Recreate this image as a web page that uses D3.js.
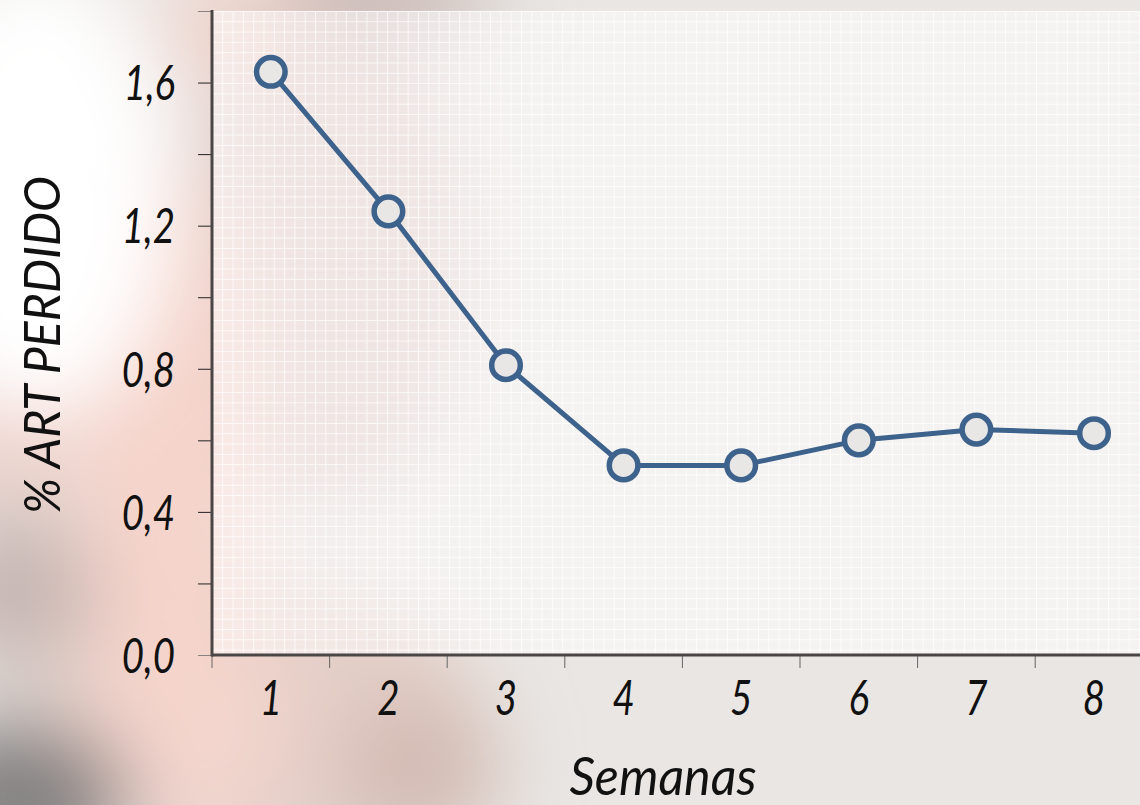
<!DOCTYPE html>
<html>
<head>
<meta charset="utf-8">
<script src="https://cdn.jsdelivr.net/npm/d3@7"></script>
<style>
  html, body { margin: 0; padding: 0; overflow: hidden; }
  svg { display: block; }
  text { font-family: Lato, 'DejaVu Sans Condensed', sans-serif; font-style: italic; font-weight: 400; fill: #111; }
</style>
</head>
<body>
<svg id="svg"></svg>
<script>
// data
var weeks = ["1", "2", "3", "4", "5", "6", "7", "8"];
var artLost = [1.63, 1.24, 0.81, 0.53, 0.53, 0.60, 0.63, 0.62];
var yTicks = [0, 0.2, 0.4, 0.6, 0.8, 1.0, 1.2, 1.4, 1.6, 1.8];
var yLabels = [0, 0.4, 0.8, 1.2, 1.6];

var W = 1140, H = 805;
var margin = {left: 212, top: 11, bottom: 150};
var height = H - margin.top - margin.bottom;
var squeeze = 0.8; // narrow the glyphs, the original face is condensed

var svg = d3.select("#svg").attr("width", W).attr("height", H);
var defs = svg.append("defs");

// blurred photo-like background
defs.append("filter").attr("id", "blur")
    .attr("x", "-50%").attr("y", "-50%").attr("width", "200%").attr("height", "200%")
    .append("feGaussianBlur").attr("stdDeviation", 40);

svg.append("rect").attr("width", W).attr("height", H).attr("fill", "#e9e6e3");

var blobs = [
    {cx: 260, cy: 720, rx: 220, ry: 150, c: "#e4cfc8"},
    {cx: 420, cy: 770, rx: 80, ry: 80, c: "#d3bbb3"},
    {cx: 180, cy: 720, rx: 100, ry: 110, c: "#f4d6ce"},
    {cx: 330, cy: 250, rx: 140, ry: 260, c: "#dfcbc6"},
    {cx: 165, cy: 440, rx: 90, ry: 290, c: "#f5d4cb"},
    {cx: 10, cy: 430, rx: 60, ry: 60, c: "#eec8c0"},
    {cx: 15, cy: 590, rx: 80, ry: 80, c: "#c6b6b2"},
    {cx: 20, cy: 800, rx: 110, ry: 80, c: "#838181"},
    {cx: 35, cy: 190, rx: 140, ry: 230, c: "#ffffff"},
    {cx: 380, cy: -10, rx: 120, ry: 40, c: "#c6b6b2"},
    {cx: 230, cy: 30, rx: 70, ry: 50, c: "#f0d0c8"}
];
var bg = svg.append("g").attr("filter", "url(#blur)");
blobs.forEach(function(b) {
    bg.append("ellipse").attr("cx", b.cx).attr("cy", b.cy)
        .attr("rx", b.rx).attr("ry", b.ry).attr("fill", b.c);
});

// grid pattern for plot area
var pat = defs.append("pattern").attr("id", "grid")
    .attr("patternUnits", "userSpaceOnUse")
    .attr("width", 10.3).attr("height", 10.3)
    .attr("x", margin.left).attr("y", margin.top);
pat.append("rect").attr("width", 10.3).attr("height", 10.3).attr("fill", "#ffffff").attr("fill-opacity", 0.5);
pat.append("path").attr("d", "M0,0.5H10.3M0.5,0V10.3")
    .attr("stroke", "#ffffff").attr("stroke-opacity", 0.75).attr("stroke-width", 1);

var xScale = d3.scaleBand().domain(weeks).range([margin.left, margin.left + 8 * 117.6]);
var yScale = d3.scaleLinear().domain([0, 1.8]).range([margin.top + height, margin.top]);

svg.append("rect")
    .attr("x", margin.left).attr("y", margin.top)
    .attr("width", W - margin.left).attr("height", height)
    .attr("fill", "url(#grid)");

// y axis ticks
var yAxis = svg.append("g").attr("transform", `translate(${margin.left - 1}, 0)`)
    .call(d3.axisLeft(yScale).tickValues(yTicks).tickSize(13).tickSizeOuter(0)
        .tickFormat(d => yLabels.some(v => Math.abs(v - d) < 1e-9) ? d3.format(".1f")(d).replace(".", ",") : ""));
yAxis.select(".domain").remove();
yAxis.selectAll(".tick line").attr("stroke", (d) => (d === 0 || d === 1.8) ? "#8d8282" : "#222");
yAxis.selectAll(".tick text").attr("x", 0).attr("dy", "0.36em")
    .attr("transform", `translate(-36, 0) scale(${squeeze}, 1)`)
    .style("font-size", "48px").attr("fill", "#111");

// x axis ticks at band boundaries
var xb = d3.range(9).map(i => margin.left + i * xScale.step());
svg.append("g").selectAll("line").data(xb).enter().append("line")
    .attr("x1", d => d).attr("x2", d => d)
    .attr("y1", margin.top + height).attr("y2", margin.top + height + 13)
    .attr("stroke", "#666").attr("stroke-width", 1);

var xAxis = svg.append("g").attr("transform", `translate(0, ${margin.top + height})`)
    .call(d3.axisBottom(xScale).tickSize(0));
xAxis.select(".domain").remove();
xAxis.selectAll(".tick text").attr("y", 0).attr("dy", 0)
    .attr("transform", `translate(0, 60) scale(${squeeze}, 1)`)
    .style("font-size", "48px").attr("fill", "#111");

// axis lines
svg.append("line").attr("x1", margin.left).attr("x2", margin.left)
    .attr("y1", margin.top - 1).attr("y2", margin.top + height + 1.5)
    .attr("stroke", "#4a4646").attr("stroke-width", 3);
svg.append("line").attr("x1", margin.left).attr("x2", W)
    .attr("y1", margin.top + height).attr("y2", margin.top + height)
    .attr("stroke", "#4a4646").attr("stroke-width", 3);

// line + markers
var pts = weeks.map((w, i) => ({w: w, v: artLost[i]}));
svg.append("path").datum(pts)
    .attr("fill", "none").attr("stroke", "#3d628c").attr("stroke-width", 5)
    .attr("stroke-linejoin", "round")
    .attr("d", d3.line().x(d => xScale(d.w) + xScale.bandwidth() / 2).y(d => yScale(d.v)));
svg.append("g").selectAll("circle").data(pts).enter().append("circle")
    .attr("cx", d => xScale(d.w) + xScale.bandwidth() / 2)
    .attr("cy", d => yScale(d.v))
    .attr("r", 14.3)
    .attr("fill", "#e8e7e6").attr("stroke", "#3d628c").attr("stroke-width", 5.5);

// titles
svg.append("text").attr("x", 663).attr("y", 795).attr("text-anchor", "middle")
    .attr("textLength", 187).attr("lengthAdjust", "spacingAndGlyphs")
    .style("font-size", "52px").text("Semanas");
svg.append("text").attr("transform", "translate(60, 345) rotate(-90)")
    .attr("text-anchor", "middle")
    .attr("textLength", 338).attr("lengthAdjust", "spacingAndGlyphs")
    .style("font-size", "50px").text("% ART PERDIDO");
</script>
</body>
</html>
